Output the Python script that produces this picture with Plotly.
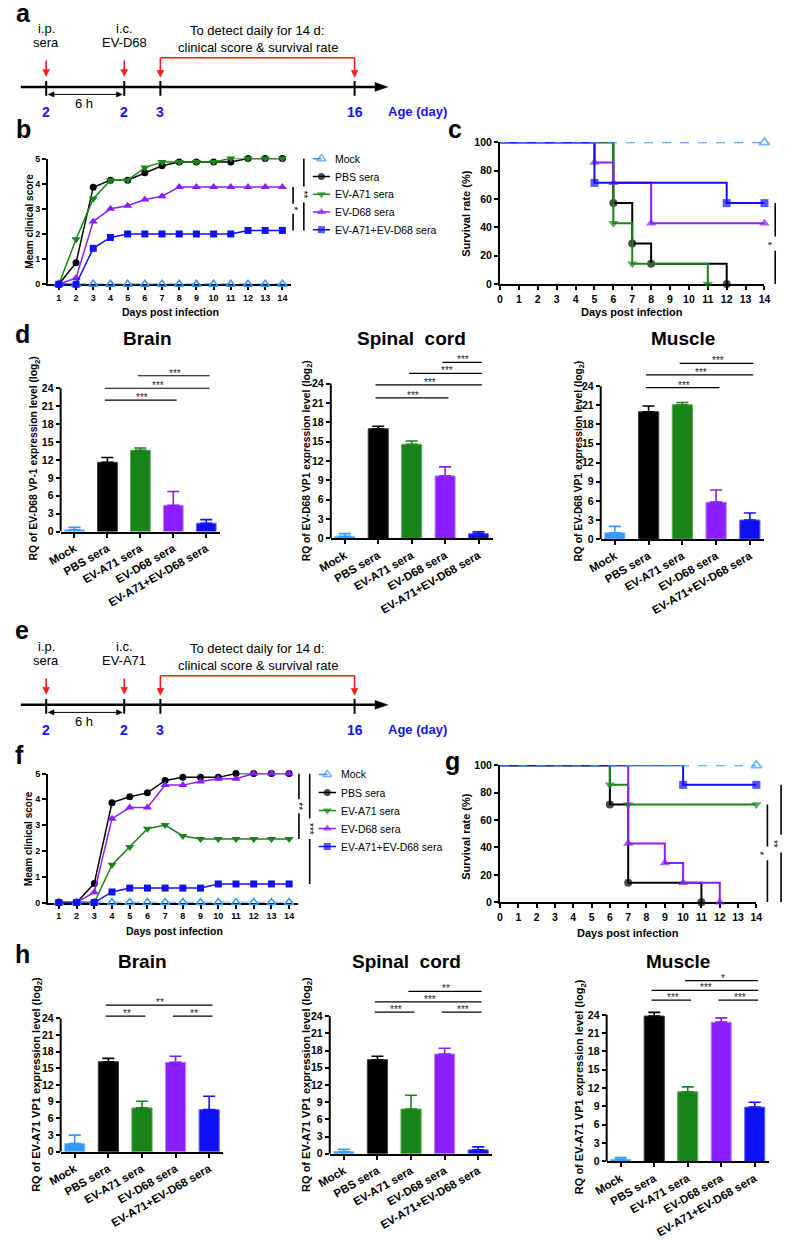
import plotly.graph_objects as go

W, H = 790, 1240
FONT = "Arial, Liberation Sans, sans-serif"
BLUE_TXT = "#1414F0"
RED = "#FF1A1A"

GROUPS = ["Mock", "PBS sera", "EV-A71 sera", "EV-D68 sera", "EV-A71+EV-D68 sera"]
COLORS = ["#3399FF", "#000000", "#1A841A", "#8B1EFF", "#1010F5"]
EDGES = ["#86C2FF", "#3A3A3A", "#5BAA5B", "#B987FF", "#6B6BFF"]
SYMBOLS = ["triangle-up-open", "circle", "triangle-down", "triangle-up", "square"]

DAYS = [1, 2, 3, 4, 5, 6, 7, 8, 9, 10, 11, 12, 13, 14]
SURV_TICKS = [0, 1, 2, 3, 4, 5, 6, 7, 8, 9, 10, 11, 12, 13, 14]
RQ_TICKS = [0, 3, 6, 9, 12, 15, 18, 21, 24]

# b: clinical score, EV-D68 challenge
B_MOCK = [0, 0, 0, 0, 0, 0, 0, 0, 0, 0, 0, 0, 0, 0]
B_PBS = [0, 0.86, 3.86, 4.14, 4.14, 4.43, 4.71, 4.86, 4.86, 4.86, 4.86, 5, 5, 5]
B_A71 = [0, 1.79, 3.4, 4.14, 4.14, 4.64, 4.86, 4.86, 4.86, 4.86, 5, 5, 5, 5]
B_D68 = [0, 0.25, 2.5, 3.0, 3.12, 3.37, 3.5, 3.87, 3.87, 3.87, 3.87, 3.87, 3.87, 3.87]
B_COMBO = [0, 0, 1.43, 1.86, 2.0, 2.0, 2.0, 2.0, 2.0, 2.0, 2.0, 2.14, 2.14, 2.14]

# c: survival, EV-D68 challenge (step points)
C_MOCK_D, C_MOCK = [0, 14], [100, 100]
C_PBS_D, C_PBS = [0, 6, 7, 8, 12], [100, 57.1, 28.6, 14.3, 0]
C_A71_D, C_A71 = [0, 6, 7, 11], [100, 42.9, 14.3, 0]
C_D68_D, C_D68 = [0, 5, 6, 8, 14], [100, 85.7, 71.4, 42.9, 42.9]
C_COMBO_D, C_COMBO = [0, 5, 12, 14], [100, 71.4, 57.1, 57.1]

# d: EV-D68 VP1 RQ (log2), mean and SEM
D_BRAIN = [0.3, 11.6, 13.6, 4.4, 1.4]
D_BRAIN_SEM = [0.4, 0.8, 0.4, 2.3, 0.6]
D_SPINAL = [0.35, 17.0, 14.6, 9.7, 0.75]
D_SPINAL_SEM = [0.4, 0.4, 0.5, 1.4, 0.3]
D_MUSCLE = [1.0, 20.0, 21.1, 5.8, 3.0]
D_MUSCLE_SEM = [1.0, 0.9, 0.35, 1.9, 1.1]
D_BRAIN_SIG = [(1, 3, 22.0, "***"), (1, 4, 24.0, "***"), (2, 4, 26.1, "***")]
D_SPINAL_SIG = [(1, 3, 21.8, "***"), (1, 4, 23.8, "***"), (2, 4, 25.6, "***"), (3, 4, 27.3, "***")]
D_MUSCLE_SIG = [(1, 3, 23.8, "***"), (1, 4, 25.8, "***"), (2, 4, 27.6, "***")]

# f: clinical score, EV-A71 challenge
F_MOCK = [0, 0, 0, 0, 0, 0, 0, 0, 0, 0, 0, 0, 0, 0]
F_PBS = [0, 0, 0.74, 3.87, 4.1, 4.25, 4.73, 4.85, 4.85, 4.85, 5, 5, 5, 5]
F_A71 = [0, 0, 0, 1.46, 2.15, 2.86, 3.0, 2.58, 2.46, 2.46, 2.46, 2.46, 2.46, 2.46]
F_D68 = [0, 0, 0.4, 3.25, 3.68, 3.68, 4.55, 4.55, 4.69, 4.8, 4.8, 5, 5, 5]
F_COMBO = [0, 0, 0, 0.41, 0.56, 0.56, 0.56, 0.56, 0.56, 0.72, 0.72, 0.72, 0.72, 0.72]

# g: survival, EV-A71 challenge
G_MOCK_D, G_MOCK = [0, 14], [100, 100]
G_PBS_D, G_PBS = [0, 6, 7, 11], [100, 71.4, 14.3, 0]
G_A71_D, G_A71 = [0, 6, 7, 14], [100, 85.7, 71.4, 71.4]
G_D68_D, G_D68 = [0, 7, 9, 10, 12], [100, 42.9, 28.6, 14.3, 0]
G_COMBO_D, G_COMBO = [0, 10, 14], [100, 85.7, 85.7]

# h: EV-A71 VP1 RQ (log2)
H_BRAIN = [1.5, 16.2, 7.9, 16.1, 7.6]
H_BRAIN_SEM = [1.5, 0.6, 1.2, 1.1, 2.4]
H_SPINAL = [0.4, 16.4, 7.8, 17.4, 0.7]
H_SPINAL_SEM = [0.4, 0.6, 2.4, 1.0, 0.5]
H_MUSCLE = [0.35, 23.8, 11.4, 22.8, 8.9]
H_MUSCLE_SEM = [0.3, 0.6, 0.8, 0.7, 0.8]
H_BRAIN_SIG = [(1, 2, 24.4, "**"), (3, 4, 24.4, "**"), (1, 4, 26.4, "**")]
H_SPINAL_SIG = [(1, 2, 24.7, "***"), (3, 4, 24.7, "***"), (1, 4, 26.5, "***"), (2, 4, 28.3, "**")]
H_MUSCLE_SIG = [(1, 2, 26.4, "***"), (3, 4, 26.4, "***"), (1, 4, 28.0, "***"), (2, 4, 29.6, "*")]


def X(px):
    return px / W


def Y(py):
    return 1 - py / H


fig = go.Figure()
shapes = []
annots = []
axes = {}


def text(x, y, s, size, bold=False, color="black", angle=0, xanchor="center"):
    annots.append(dict(
        x=X(x), y=Y(y), xref="paper", yref="paper", text=s, showarrow=False,
        textangle=angle, xanchor=xanchor, yanchor="middle",
        font=dict(size=size, color=color, family=FONT, weight="bold" if bold else "normal"),
    ))


def seg(x0, y0, x1, y1, w, color="black"):
    shapes.append(dict(type="line", xref="paper", yref="paper",
                       x0=X(x0), y0=Y(y0), x1=X(x1), y1=Y(y1),
                       line=dict(color=color, width=w)))


def tri(pts, color):
    path = "M " + " L ".join(f"{X(a):.5f},{Y(b):.5f}" for a, b in pts) + " Z"
    shapes.append(dict(type="path", xref="paper", yref="paper", path=path,
                       fillcolor=color, line=dict(color=color, width=0.5)))


def arrow_down(x, y0, y1, color=RED):
    seg(x, y0, x, y1 - 5, 1.6, color)
    tri([(x, y1), (x - 3.5, y1 - 7), (x + 3.5, y1 - 7)], color)


TL_POS = [34, 114, 151, 350]
TL_LABELS = ["2", "2", "3", "16"]


def timeline(dy, virus):
    ya = 81.7 + dy
    seg(8, ya, 374, ya, 2.5)
    tri([(384, ya), (371, ya - 4.5), (371, ya + 4.5)], "black")
    for p, lab in zip(TL_POS, TL_LABELS):
        seg(p, ya - 6, p, ya + 9, 2)
        text(p, ya + 25, lab, 14, True, BLUE_TXT)
    text(382, ya + 25, "Age (day)", 13, True, BLUE_TXT, xanchor="left")
    arrow_down(34, 55 + dy, 71 + dy)
    arrow_down(114, 55 + dy, 71 + dy)
    seg(151, 52.3 + dy, 350, 52.3 + dy, 1.6, RED)
    arrow_down(151, 52.3 + dy, 72 + dy)
    arrow_down(350, 52.3 + dy, 72 + dy)
    yh = ya + 7.6
    seg(40, yh, 108, yh, 1)
    tri([(36, yh), (42, yh - 2.6), (42, yh + 2.6)], "black")
    tri([(112, yh), (106, yh - 2.6), (106, yh + 2.6)], "black")
    text(73, ya + 16.3, "6 h", 13)
    text(34, 23 + dy, "i.p.", 13)
    text(34, 37 + dy, "sera", 13)
    text(114, 23 + dy, "i.c.", 13)
    text(114, 37 + dy, virus, 13)
    text(250, 25 + dy, "To detect daily for 14 d:", 13)
    text(251, 41.5 + dy, "clinical score &amp; survival rate", 13)


AX = dict(showgrid=False, zeroline=False, showline=True, linecolor="black", linewidth=2,
          ticks="outside", tickcolor="black", tickwidth=1.5, ticklen=4)


def set_axes(n, xdom, ydom, xkw, ykw):
    sx = "" if n == 1 else str(n)
    axes["xaxis" + sx] = {**AX, **xkw, "domain": xdom, "anchor": "y" + sx}
    axes["yaxis" + sx] = {**AX, **ykw, "domain": ydom, "anchor": "x" + sx}
    return "x" + sx, "y" + sx


def tfont(size):
    return dict(size=size, family=FONT, color="black", weight="bold")


def line_style(i, width):
    return dict(color=COLORS[i], width=width, dash="dash" if i == 0 else "solid")


def score_chart(n, left, right, top, bottom, xr, series):
    xa, ya = set_axes(
        n, [X(left), X(right)], [Y(bottom), Y(top)],
        dict(range=xr, tickvals=DAYS, tickfont=tfont(9), layer="below traces"),
        dict(range=[0, 5], tickvals=[0, 1, 2, 3, 4, 5], tickfont=tfont(9), layer="below traces"),
    )
    for i, ys in enumerate(series):
        fig.add_trace(go.Scatter(
            x=DAYS, y=ys, xaxis=xa, yaxis=ya, name=GROUPS[i], showlegend=False,
            mode="lines+markers", cliponaxis=False, line=line_style(i, 1.5),
            marker=dict(symbol=SYMBOLS[i], size=8 if "triangle" in SYMBOLS[i] else 7,
                        color=COLORS[i], line=dict(color=COLORS[i], width=1.5 if i == 0 else 0)),
        ))
    return ya


def legend_box(n, sym_left, sym_right, first_row, row_h):
    # hand-made legend: short line + marker, then the group name
    xa, ya = set_axes(
        n, [X(sym_left), X(sym_right)],
        [Y(first_row + 4.5 * row_h), Y(first_row - 0.5 * row_h)],
        dict(range=[0, 2], visible=False), dict(range=[4.5, -0.5], visible=False),
    )
    for i, name in enumerate(GROUPS):
        fig.add_trace(go.Scatter(
            x=[0, 1, 2], y=[i, i, i], xaxis=xa, yaxis=ya, showlegend=False,
            mode="lines+markers", cliponaxis=False, hoverinfo="skip", line=line_style(i, 1.5),
            marker=dict(symbol=SYMBOLS[i], size=[0, 8 if "triangle" in SYMBOLS[i] else 7, 0],
                        color=COLORS[i], line=dict(color=COLORS[i], width=1.5 if i == 0 else 0)),
        ))
        text(sym_right + 3, first_row + i * row_h, name, 10.5, xanchor="left")


def surv_chart(n, left, right, top, bottom, steps):
    xa, ya = set_axes(
        n, [X(left), X(right)], [Y(bottom), Y(top)],
        dict(range=[0, 14], tickvals=SURV_TICKS, tickfont=tfont(10.5), layer="below traces"),
        dict(range=[0, 100], tickvals=[0, 20, 40, 60, 80, 100], tickfont=tfont(10.5),
             layer="below traces"),
    )
    for i in [1, 2, 3, 4, 0]:
        d, v = steps[i]
        sizes = [0] + [9 if "triangle" in SYMBOLS[i] else 8] * (len(d) - 1)
        fig.add_trace(go.Scatter(
            x=d, y=v, xaxis=xa, yaxis=ya, showlegend=False, mode="lines+markers",
            line_shape="hv", cliponaxis=False, line=line_style(i, 2),
            marker=dict(symbol=SYMBOLS[i], size=sizes, color=COLORS[i],
                        line=dict(color=COLORS[i], width=1.8 if i == 0 else 0)),
        ))
    return ya


def vsig(xpx, yref, y_top, y_bot, label, gap):
    mid = (y_top + y_bot) / 2
    for a, b in [(y_top, mid + gap), (mid - gap, y_bot)]:
        shapes.append(dict(type="line", xref="paper", yref=yref, x0=X(xpx), x1=X(xpx),
                           y0=a, y1=b, line=dict(color="black", width=1.6)))
    annots.append(dict(x=X(xpx), y=mid, xref="paper", yref=yref, text=label, showarrow=False,
                       textangle=90, font=dict(size=10, family=FONT, color="black")))


def bar_chart(n, c0, c4, y0, y24, ytop, vals, sems, sigs, title, tx, ty, ytitle, yx, yy, ysize):
    sp = (c4 - c0) / 4
    u = (y0 - y24) / 24
    xa, ya = set_axes(
        n, [X(c0 - 0.42 * sp), X(c4 + 0.42 * sp)], [Y(y0), Y(y0 - ytop * u)],
        dict(range=[-0.42, 4.42], tickvals=[0, 1, 2, 3, 4], ticktext=GROUPS, tickangle=-30,
             tickfont=tfont(11.5)),
        dict(range=[0, ytop], tickvals=RQ_TICKS, tickfont=tfont(10.5), showline=False),
    )
    for i in range(5):
        fig.add_trace(go.Bar(
            x=[i], y=[vals[i]], width=0.6, xaxis=xa, yaxis=ya, showlegend=False,
            marker=dict(color=COLORS[i], line=dict(color=EDGES[i], width=1)),
            error_y=dict(type="data", symmetric=False, array=[sems[i]], arrayminus=[0],
                         color=COLORS[i], thickness=1.6, width=6),
        ))
    shapes.append(dict(type="line", xref=xa + " domain", yref=ya, x0=0, x1=0, y0=0, y1=24,
                       line=dict(color="black", width=2)))
    for i, j, lev, lab in sigs:
        shapes.append(dict(type="line", xref=xa, yref=ya, x0=i - 0.08, x1=j + 0.1,
                           y0=lev, y1=lev, line=dict(color="black", width=1.2)))
        annots.append(dict(x=(i + j) / 2 + 0.05, y=lev, xref=xa, yref=ya, text=lab,
                           showarrow=False, yanchor="bottom", yshift=-5,
                           font=dict(size=10, family=FONT, color="#222222")))
    text(tx, ty, title, 19, True)
    text(yx, yy, ytitle, ysize, True, angle=-90)


# ---- a / e timelines
timeline(0, "EV-D68")
timeline(624, "EV-A71")

# ---- b
yb = score_chart(1, 36, 285, 154, 281, [0.376, 14.51], [B_MOCK, B_PBS, B_A71, B_D68, B_COMBO])
vsig(298, yb, 5, 2.14, "**", 0.32)
vsig(287, yb, 3.87, 2.14, "*", 0.2)
text(16.7, 217.5, "Meam clinical score", 10, True, angle=-90)
text(161, 308.5, "Days post infection", 10.5, True)
legend_box(11, 307, 325, 154.3, 17.9)

# ---- c
yc = surv_chart(2, 499, 770, 137.7, 280.7,
                [(C_MOCK_D, C_MOCK), (C_PBS_D, C_PBS), (C_A71_D, C_A71),
                 (C_D68_D, C_D68), (C_COMBO_D, C_COMBO)])
vsig(781, yc, 57.1, 0, "*", 5)
text(464, 209, "Survival rate (%)", 11, True, angle=-90)
text(634.5, 309, "Days post infection", 11, True)

# ---- d
YT_D68 = "RQ of EV-D68 VP{}1 expression level (log<sub>2</sub>)"
bar_chart(3, 63, 198, 530.7, 386, 30, D_BRAIN, D_BRAIN_SEM, D_BRAIN_SIG,
          "Brain", 138, 336, YT_D68.format("-"), 22, 456.5, 10.3)
bar_chart(4, 340, 477, 537.7, 381.3, 30, D_SPINAL, D_SPINAL_SEM, D_SPINAL_SIG,
          "Spinal  cord", 408, 336, YT_D68.format(""), 302, 459, 10.3)
bar_chart(5, 616.7, 755, 538.3, 384, 30, D_MUSCLE, D_MUSCLE_SEM, D_MUSCLE_SIG,
          "Muscle", 687, 336, YT_D68.format(""), 580, 460, 10.3)

# ---- f
yf = score_chart(6, 36, 292, 775, 905.3, [0.394, 14.5], [F_MOCK, F_PBS, F_A71, F_D68, F_COMBO])
vsig(293, yf, 5, 2.46, "**", 0.27)
vsig(304, yf, 5, 0.72, "***", 0.4)
text(16.7, 841, "Meam clinical score", 10, True, angle=-90)
text(165, 934, "Days post infection", 10.5, True)
legend_box(12, 313, 331, 776, 18.2)

# ---- g
yg = surv_chart(7, 499, 761.7, 766.7, 905,
                [(G_MOCK_D, G_MOCK), (G_PBS_D, G_PBS), (G_A71_D, G_A71),
                 (G_D68_D, G_D68), (G_COMBO_D, G_COMBO)])
vsig(773, yg, 71.4, 0, "*", 5)
vsig(787, yg, 85.7, 0, "**", 6.5)
text(464, 838, "Survival rate (%)", 11, True, angle=-90)
text(630, 936, "Days post infection", 11, True)

# ---- h
YT_A71 = "RQ of EV-A71 VP1 expression level (log<sub>2</sub>)"
bar_chart(8, 63.3, 201, 1157, 1022.3, 32, H_BRAIN, H_BRAIN_SEM, H_BRAIN_SIG,
          "Brain", 133, 965, YT_A71, 25, 1089, 11)
bar_chart(9, 339, 476.7, 1159, 1020, 32, H_SPINAL, H_SPINAL_SEM, H_SPINAL_SIG,
          "Spinal  cord", 403.5, 965, YT_A71, 301.7, 1089, 11)
bar_chart(10, 622.7, 760, 1166.7, 1018.7, 32, H_MUSCLE, H_MUSCLE_SEM, H_MUSCLE_SIG,
          "Muscle", 681.5, 965, YT_A71, 581.7, 1091, 11)

# ---- panel letters
for lab, x, y in [("a", 1, 7), ("b", 1, 124), ("c", 444, 124), ("d", 0, 331),
                  ("e", 0, 630), ("f", 0, 756), ("g", 441, 762), ("h", 0, 957)]:
    text(x, y, lab, 25, True, xanchor="left")

fig.update_layout(
    width=W, height=H, margin=dict(l=0, r=0, t=0, b=0),
    paper_bgcolor="white", plot_bgcolor="white",
    font=dict(family=FONT, color="black"),
    barmode="overlay", showlegend=False,
    shapes=shapes, annotations=annots, **axes,
)

fig.write_html("out.html", config={"displayModeBar": False},
               post_script="document.body.style.margin = '0';")
